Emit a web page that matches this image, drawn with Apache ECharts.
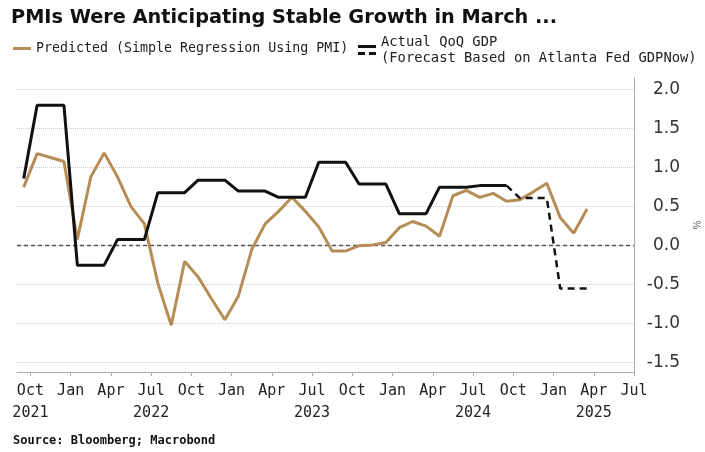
<!DOCTYPE html>
<html><head><meta charset="utf-8">
<script src="https://cdn.jsdelivr.net/npm/echarts@6/dist/echarts.min.js"></script>
<style>html,body{margin:0;padding:0;background:#fff}#c{width:705px;height:452px}</style>
</head><body><div id="c"></div>
<script>
// ---- data ----
const months = ['2021-09','2021-10','2021-11','2021-12',
  '2022-01','2022-02','2022-03','2022-04','2022-05','2022-06','2022-07','2022-08','2022-09','2022-10','2022-11','2022-12',
  '2023-01','2023-02','2023-03','2023-04','2023-05','2023-06','2023-07','2023-08','2023-09','2023-10','2023-11','2023-12',
  '2024-01','2024-02','2024-03','2024-04','2024-05','2024-06','2024-07','2024-08','2024-09','2024-10','2024-11','2024-12',
  '2025-01','2025-02','2025-03'];
const predicted = [0.75,1.18,1.13,1.08,
  0.08,0.88,1.19,0.88,0.50,0.28,-0.48,-1.02,-0.20,-0.40,-0.68,-0.95,
  -0.65,-0.05,0.28,0.44,0.62,0.44,0.24,-0.07,-0.07,0.00,0.01,0.04,
  0.23,0.31,0.25,0.12,0.64,0.71,0.62,0.67,0.57,0.59,0.69,0.80,
  0.36,0.16,0.47];
const actual = [0.86,1.80,1.80,1.80,
  -0.25,-0.25,-0.25,0.08,0.08,0.08,0.68,0.68,0.68,0.84,0.84,0.84,
  0.70,0.70,0.70,0.62,0.62,0.62,1.07,1.07,1.07,0.79,0.79,0.79,
  0.41,0.41,0.41,0.75,0.75,0.75,0.77,0.77,0.77,null,null,null,
  null,null,null];
const forecast = [null,null,null,null,
  null,null,null,null,null,null,null,null,null,null,null,null,
  null,null,null,null,null,null,null,null,null,null,null,null,
  null,null,null,null,null,null,null,null,0.77,0.61,0.61,0.61,
  -0.55,-0.55,-0.55];
const tickMonths = ['2021-10','2022-01','2022-04','2022-07','2022-10','2023-01','2023-04','2023-07','2023-10',
  '2024-01','2024-04','2024-07','2024-10','2025-01','2025-04','2025-07'];
const tickLabels = ['Oct\n2021','Jan','Apr','Jul\n2022','Oct','Jan','Apr','Jul\n2023','Oct',
  'Jan','Apr','Jul\n2024','Oct','Jan','Apr\n2025','Jul'];
const yTicks = [-1.5,-1.0,-0.5,0.0,0.5,1.0,1.5,2.0];
const axisStart = '2021-09', axisEnd = '2025-07';

// ---- helpers ----
const mIdx = s => { const [y,m] = s.split('-').map(Number); return (y-2021)*12 + (m-1); };
const pts = arr => months.map((s,i) => [mIdx(s)+0.5, arr[i]]);
const tickVals = tickMonths.map(mIdx);

const BROWN = '#b78d57';
const MONO = "'DejaVu Sans Mono', monospace";

const chart = echarts.init(document.getElementById('c'), null, {renderer:'canvas'});
chart.setOption({
  animation:false,
  backgroundColor:'#fff',
  title:[
    {text:'PMIs Were Anticipating Stable Growth in March ...', left:6, top:3,
     textStyle:{fontFamily:'DejaVu Sans', fontWeight:'bold', fontSize:19.3, color:'#111'}},
    {text:'Source: Bloomberg; Macrobond', left:8, top:430,
     textStyle:{fontFamily:MONO, fontWeight:'bold', fontSize:12, color:'#111'}}
  ],
  legend:[
    {data:['Predicted (Simple Regression Using PMI)'], left:8, top:37, icon:'rect',
     itemWidth:18, itemHeight:3, itemStyle:{borderWidth:0},
     textStyle:{fontFamily:MONO, fontSize:13.3, color:'#222'}},
    {data:['Actual QoQ GDP\n(Forecast Based on Atlanta Fed GDPNow)'], left:353, top:29,
     icon:'path://M0,0H18V3H0Z M0,7H7V10H0Z M11,7H18V10H11Z',
     itemWidth:18, itemHeight:10, itemStyle:{borderWidth:0},
     textStyle:{fontFamily:MONO, fontSize:13.8, lineHeight:16, color:'#222'}}
  ],
  grid:{left:17, right:71, top:78, bottom:80, containLabel:false, outerBoundsMode:'none'},
  xAxis:{type:'value', min:mIdx(axisStart), max:mIdx(axisEnd),
    axisLine:{show:true, onZero:false, lineStyle:{color:'#aaa', width:1}},
    axisTick:{show:true, customValues:tickVals, length:4, lineStyle:{color:'#aaa'}},
    axisLabel:{customValues:tickVals, margin:8, fontFamily:MONO, fontSize:15, lineHeight:22, color:'#222',
      formatter: v => { const k = tickVals.indexOf(Math.round(v)); return k>=0 ? tickLabels[k] : ''; }},
    splitLine:{show:false}},
  yAxis:{type:'value', position:'right', min:-1.62, max:2.15,
    name:'%', nameLocation:'middle', nameGap:56, nameRotate:-90,
    nameTextStyle:{fontSize:10, color:'#666'},
    axisLine:{show:true, onZero:false, lineStyle:{color:'#aaa', width:1}},
    axisTick:{show:false, customValues:yTicks},
    axisLabel:{customValues:yTicks, align:'right', margin:46, fontFamily:'DejaVu Sans', fontSize:17, color:'#333',
      formatter: v => v.toFixed(1)},
    splitLine:{show:true, lineStyle:{color:'#cccccc', type:'dotted', width:1}}},
  series:[
    {name:'Predicted (Simple Regression Using PMI)', type:'line', data:pts(predicted), showSymbol:false, symbol:'none',
     color:BROWN, lineStyle:{color:BROWN, width:3}, z:3,
     markLine:{silent:true, symbol:'none', z:1, label:{show:false},
       lineStyle:{color:'#555', type:[4,3], width:1.3}, data:[{yAxis:0}]}},
    {name:'Actual QoQ GDP\n(Forecast Based on Atlanta Fed GDPNow)', type:'line', data:pts(actual), showSymbol:false, symbol:'none',
     color:'#111', lineStyle:{color:'#111', width:3}, z:4},
    {name:'Forecast', type:'line', data:pts(forecast), showSymbol:false, symbol:'none',
     color:'#111', lineStyle:{color:'#111', width:2.5, type:[7,5]}, z:4}
  ]
});
</script></body></html>
